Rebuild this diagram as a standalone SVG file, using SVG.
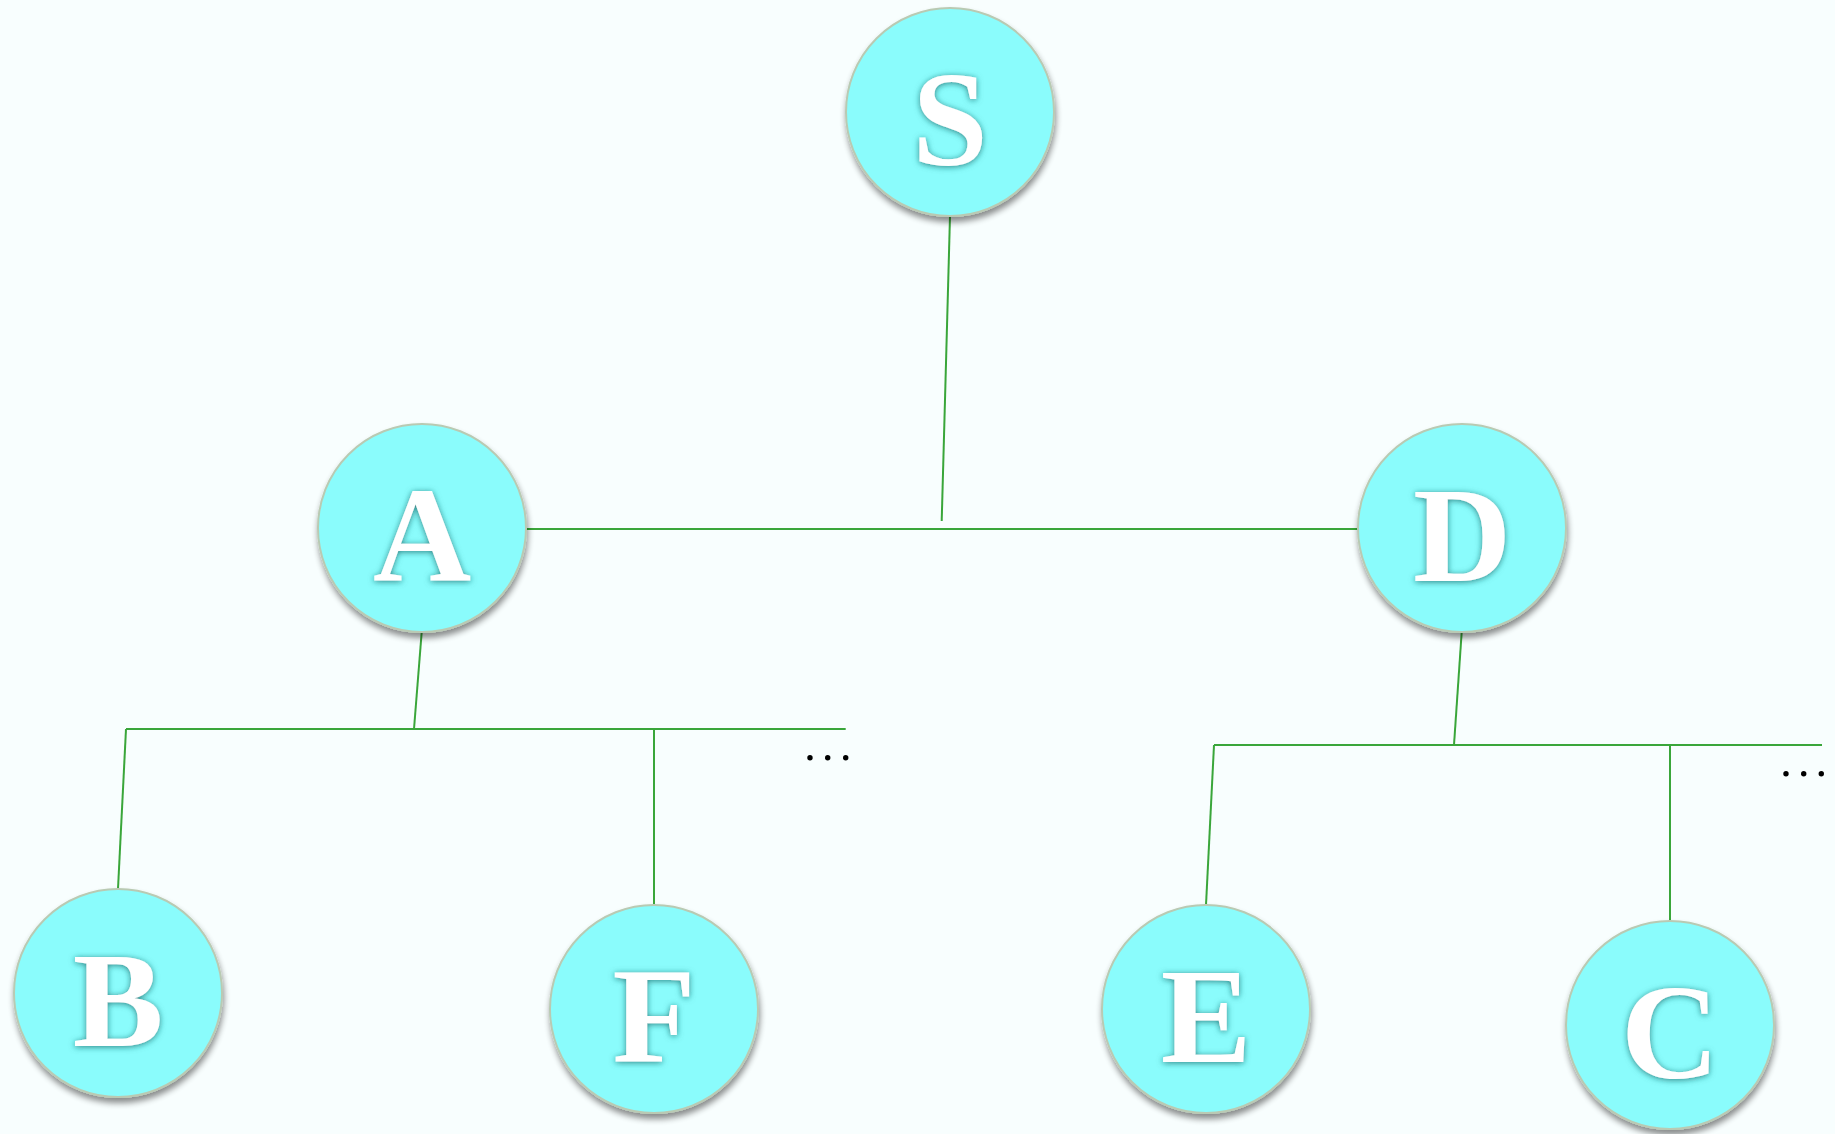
<svg xmlns="http://www.w3.org/2000/svg" width="1835" height="1134" viewBox="0 0 1835 1134">
<defs>
<filter id="cs" x="-20%" y="-20%" width="140%" height="150%">
<feGaussianBlur in="SourceAlpha" stdDeviation="3"/>
<feOffset dx="1" dy="5" result="b"/>
<feComponentTransfer in="b" result="s"><feFuncA type="linear" slope="0.45"/></feComponentTransfer>
<feMerge><feMergeNode in="s"/><feMergeNode in="SourceGraphic"/></feMerge>
</filter>
<filter id="ts" x="-30%" y="-30%" width="160%" height="160%">
<feGaussianBlur in="SourceAlpha" stdDeviation="3"/>
<feOffset dx="0" dy="1" result="b"/>
<feFlood flood-color="#1a6e6e" flood-opacity="0.85"/>
<feComposite in2="b" operator="in" result="s"/>
<feMerge><feMergeNode in="s"/><feMergeNode in="SourceGraphic"/></feMerge>
</filter>
</defs>
<style>
.n circle{fill:#8afcfc;stroke:#b9cab3;stroke-width:2;filter:url(#cs)}
.n text{font-family:"Liberation Serif","DejaVu Serif",serif;font-weight:bold;font-size:136px;fill:#ffffff;text-anchor:middle;filter:url(#ts)}
.e line{stroke:#3aa63a;stroke-width:2;fill:none}
.d{fill:#000}
</style>
<rect width="1835" height="1134" fill="#f8fefe"/>
<g class="e" id="connectors">
<line x1="950" y1="216" x2="941.7" y2="521"/>
<line x1="526" y1="529" x2="1358" y2="529"/>
<line x1="421.7" y1="632" x2="414" y2="729"/>
<line x1="126" y1="729" x2="845.7" y2="729"/>
<line x1="126" y1="729" x2="118" y2="889"/>
<line x1="654" y1="729" x2="654" y2="905"/>
<line x1="1461.7" y1="632" x2="1454" y2="745"/>
<line x1="1214" y1="745" x2="1822" y2="745"/>
<line x1="1214" y1="745" x2="1206" y2="905"/>
<line x1="1670" y1="745" x2="1670" y2="921"/>
</g>
<g id="dots1" class="d">
<circle cx="810" cy="757.7" r="2.7"/><circle cx="827.7" cy="757.7" r="2.7"/><circle cx="845.7" cy="757.7" r="2.7"/>
</g>
<g id="dots2" class="d">
<circle cx="1786" cy="773.7" r="2.7"/><circle cx="1803.7" cy="773.7" r="2.7"/><circle cx="1821.3" cy="773.7" r="2.7"/>
</g>
<g id="S" class="n"><circle cx="950" cy="112" r="104"/><text x="950" y="165">S</text></g>
<g id="A" class="n"><circle cx="422" cy="528" r="104"/><text x="422" y="581">A</text></g>
<g id="D" class="n"><circle cx="1462" cy="528" r="104"/><text x="1462" y="581">D</text></g>
<g id="B" class="n"><circle cx="118" cy="993" r="104"/><text x="118" y="1046">B</text></g>
<g id="F" class="n"><circle cx="654" cy="1009" r="104"/><text x="654" y="1062">F</text></g>
<g id="E" class="n"><circle cx="1206" cy="1009" r="104"/><text x="1206" y="1062">E</text></g>
<g id="C" class="n"><circle cx="1670" cy="1025" r="104"/><text x="1670" y="1078">C</text></g>
</svg>
